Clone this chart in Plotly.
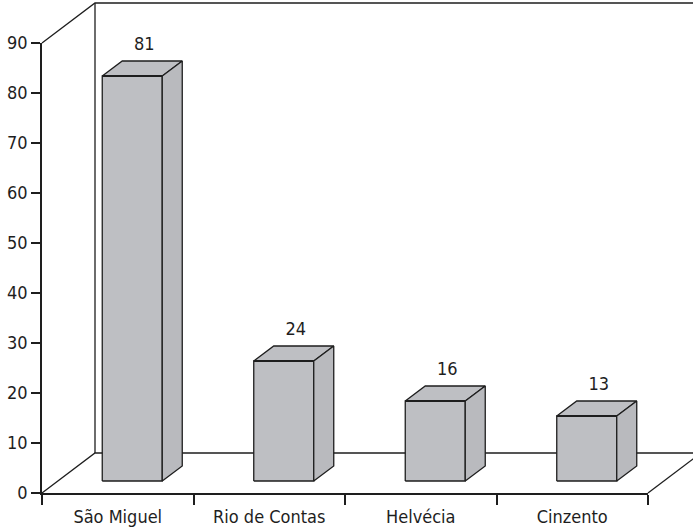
import plotly.graph_objects as go

# ---- data ----
categories = ["São Miguel", "Rio de Contas", "Helvécia", "Cinzento"]
values = [81, 24, 16, 13]
y_ticks = [0, 10, 20, 30, 40, 50, 60, 70, 80, 90]

# ---- geometry / style (pixel-derived) ----
W, H = 693, 529
PX_CAT = 151.5          # pixels per category
PX_UNIT = 5.0           # pixels per value unit
X0_PX, Y0_PX = 42, 493  # origin of front axes in pixels

def px2x(px):
    return (px - X0_PX) / PX_CAT - 0.5

def px2y(py):
    return (Y0_PX - py) / PX_UNIT

WALL_DX = 53 / PX_CAT
WALL_DY = 40 / PX_UNIT
BAR_OFF_X = 14.5 / PX_CAT
BAR_OFF_Y = 12 / PX_UNIT
BAR_HALF = 30 / PX_CAT
BAR_DX = 20 / PX_CAT
BAR_DY = 15 / PX_UNIT
TOP_V = 90

FILL = "#bebfc3"
SIDE = "#b9babe"
EDGE = "#1e1e1e"
FONT = "DejaVu Sans Condensed, Liberation Sans Narrow, Roboto Condensed, sans-serif"
FS = 17

fig = go.Figure()

# invisible trace on main axes (to carry category ticks)
fig.add_trace(go.Scatter(x=categories, y=values, mode="markers",
                         marker=dict(opacity=0), hoverinfo="skip",
                         showlegend=False, xaxis="x", yaxis="y"))

xl = px2x(0)
xr = px2x(W)
yb = px2y(H)
yt = px2y(0)

# back wall / floor lines (overlay axes)
wall_x = [-0.5, -0.5 + WALL_DX, xr + 0.5, None,
          -0.5 + WALL_DX, -0.5 + WALL_DX, None,
          -0.5, -0.5 + WALL_DX, xr + 0.5, None,
          3.5, 3.5 + WALL_DX]
wall_y = [TOP_V, TOP_V + WALL_DY, TOP_V + WALL_DY, None,
          TOP_V + WALL_DY, WALL_DY, None,
          0, WALL_DY, WALL_DY, None,
          0, WALL_DY]
fig.add_trace(go.Scatter(x=wall_x, y=wall_y, mode="lines",
                         line=dict(color=EDGE, width=1.3),
                         hoverinfo="skip", showlegend=False,
                         xaxis="x2", yaxis="y2"))

# bars
for i, v in enumerate(values):
    c = i + BAR_OFF_X
    l, r = c - BAR_HALF, c + BAR_HALF
    b, t = BAR_OFF_Y, BAR_OFF_Y + v
    # front face
    fig.add_trace(go.Scatter(x=[l, r, r, l, l], y=[b, b, t, t, b], mode="lines",
                             fill="toself", fillcolor=FILL,
                             line=dict(color=EDGE, width=1.3),
                             hoverinfo="skip", showlegend=False,
                             xaxis="x2", yaxis="y2"))
    # top face
    fig.add_trace(go.Scatter(x=[l, r, r + BAR_DX, l + BAR_DX, l],
                             y=[t, t, t + BAR_DY, t + BAR_DY, t], mode="lines",
                             fill="toself", fillcolor=FILL,
                             line=dict(color=EDGE, width=1.3),
                             hoverinfo="skip", showlegend=False,
                             xaxis="x2", yaxis="y2"))
    # side face
    fig.add_trace(go.Scatter(x=[r, r + BAR_DX, r + BAR_DX, r, r],
                             y=[b, b + BAR_DY, t + BAR_DY, t, b], mode="lines",
                             fill="toself", fillcolor=SIDE,
                             line=dict(color=EDGE, width=1.3),
                             hoverinfo="skip", showlegend=False,
                             xaxis="x2", yaxis="y2"))
    # thicker front-top edge
    fig.add_trace(go.Scatter(x=[l, r], y=[t, t], mode="lines",
                             line=dict(color=EDGE, width=2.2),
                             hoverinfo="skip", showlegend=False,
                             xaxis="x2", yaxis="y2"))
    # value label
    fig.add_trace(go.Scatter(x=[c + BAR_DX / 2 + 2 / PX_CAT], y=[t + BAR_DY + 16 / PX_UNIT],
                             mode="text", text=[str(v)],
                             textfont=dict(family=FONT, size=FS + 1, color="#1e1e1e"),
                             textposition="middle center", cliponaxis=False,
                             hoverinfo="skip", showlegend=False,
                             xaxis="x2", yaxis="y2"))

fig.update_layout(
    width=W, height=H, autosize=False,
    margin=dict(l=0, r=0, t=0, b=0, pad=0, autoexpand=False),
    paper_bgcolor="white", plot_bgcolor="rgba(0,0,0,0)",
    font=dict(family=FONT, size=FS, color="#1e1e1e"),
    xaxis=dict(type="category", categoryarray=categories, categoryorder="array",
               range=[-0.5, 3.5], domain=[X0_PX / W, 648 / W], anchor="y",
               tickson="boundaries", ticks="outside", ticklen=10, tickwidth=1.5,
               tickcolor=EDGE, showline=True, linecolor=EDGE, linewidth=1.5,
               ticklabelstandoff=7, tickfont=dict(size=FS + 1),
               showgrid=False, zeroline=False, fixedrange=True, automargin=False),
    yaxis=dict(range=[0, 90], domain=[(H - Y0_PX) / H, (H - 43) / H], anchor="x",
               tickvals=y_ticks, ticks="outside", ticklen=9, tickwidth=1.5,
               tickcolor=EDGE, showline=True, linecolor=EDGE, linewidth=1.5,
               tickfont=dict(size=FS + 1),
               showgrid=False, zeroline=False, fixedrange=True, automargin=False),
    xaxis2=dict(range=[xl, xr], domain=[0, 1], anchor="y2", visible=False,
                showgrid=False, zeroline=False, fixedrange=True),
    yaxis2=dict(range=[yb, yt], domain=[0, 1], anchor="x2", visible=False,
                showgrid=False, zeroline=False, fixedrange=True),
    showlegend=False,
)

fig.write_html("out.html")
